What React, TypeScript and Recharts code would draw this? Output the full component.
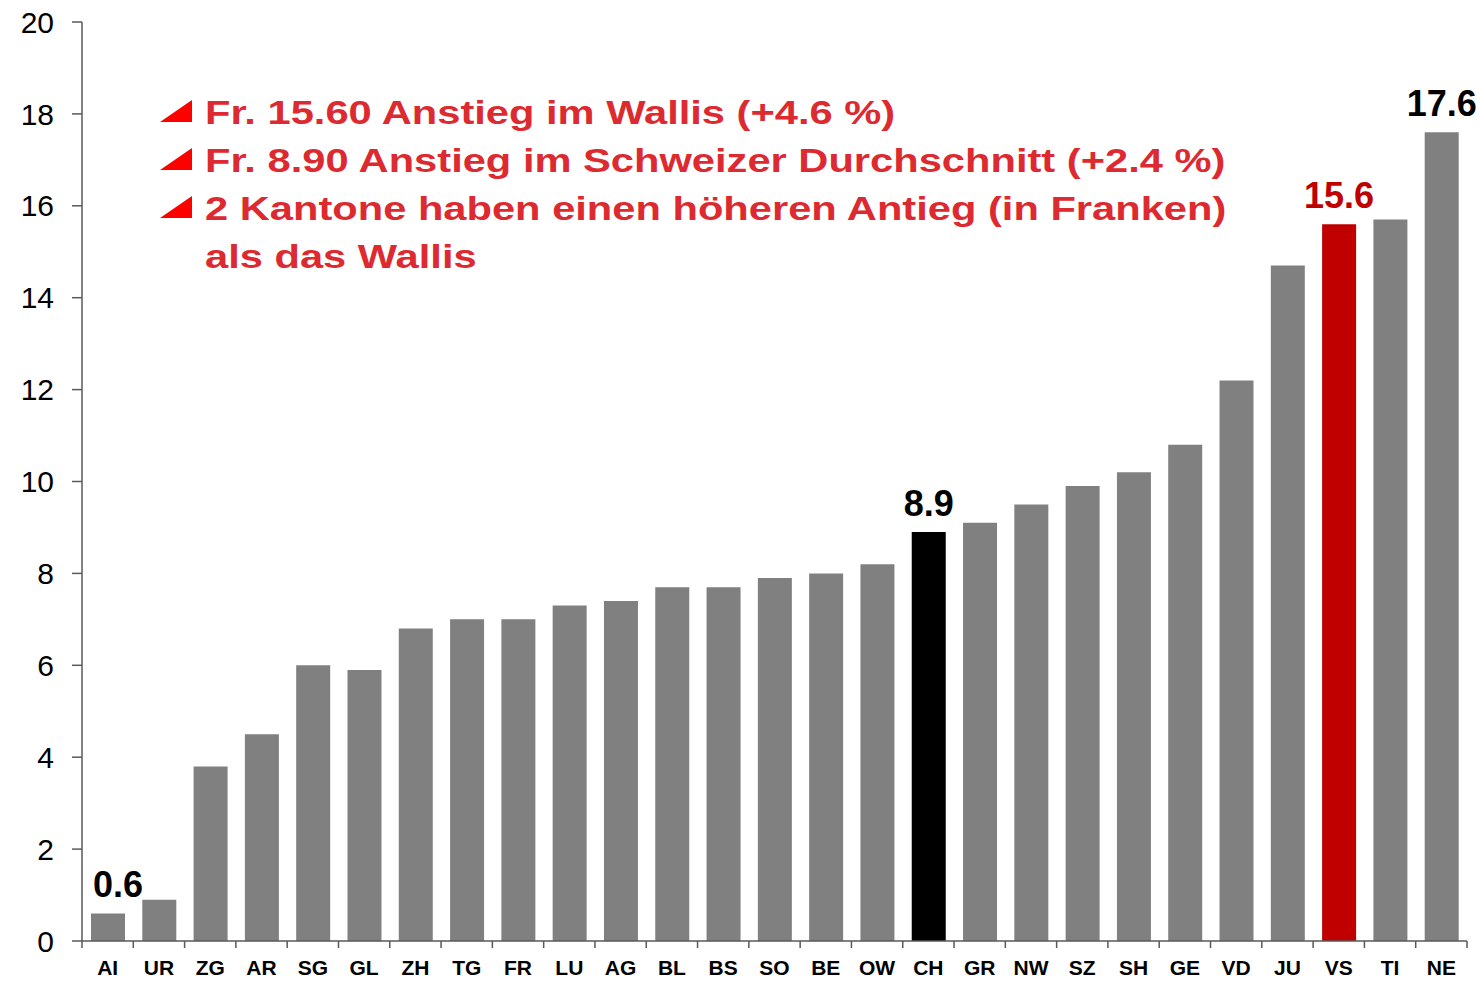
import { BarChart, Bar, XAxis, YAxis, Cell, LabelList } from 'recharts';

const cantons = [
  'AI', 'UR', 'ZG', 'AR', 'SG', 'GL', 'ZH', 'TG', 'FR', 'LU', 'AG', 'BL', 'BS', 'SO',
  'BE', 'OW', 'CH', 'GR', 'NW', 'SZ', 'SH', 'GE', 'VD', 'JU', 'VS', 'TI', 'NE',
];
const increase = [
  0.6, 0.9, 3.8, 4.5, 6.0, 5.9, 6.8, 7.0, 7.0, 7.3, 7.4, 7.7, 7.7, 7.9,
  8.0, 8.2, 8.9, 9.1, 9.5, 9.9, 10.2, 10.8, 12.2, 14.7, 15.6, 15.7, 17.6,
];
const yTicks = [0, 2, 4, 6, 8, 10, 12, 14, 16, 18, 20];
const labelled = ['AI', 'CH', 'VS', 'NE'];
const notes = [
  'Fr. 15.60 Anstieg im Wallis (+4.6 %)',
  'Fr. 8.90 Anstieg im Schweizer Durchschnitt (+2.4 %)',
  '2 Kantone haben einen höheren Antieg (in Franken)',
  'als das Wallis',
];

const W = 1480;
const H = 981;
const AXIS_X = 82;
const RIGHT = 13;
const FONT = '"Liberation Sans", Arial, sans-serif';
const AXIS_COLOR = '#595959';

const data = cantons.map((c, i) => ({ canton: c, value: increase[i] }));

function barColor(c: string) {
  if (c === 'CH') return '#000000';
  if (c === 'VS') return '#c00000';
  return '#808080';
}

function CantonTick(props: any) {
  const { x, y, payload, index } = props;
  const step = (W - AXIS_X - RIGHT) / cantons.length;
  return (
    <g>
      <line x1={x - step / 2} y1={y} x2={x - step / 2} y2={y + 7} stroke={AXIS_COLOR} strokeWidth={1.5} />
      {index === cantons.length - 1 && (
        <line x1={x + step / 2} y1={y} x2={x + step / 2} y2={y + 7} stroke={AXIS_COLOR} strokeWidth={1.5} />
      )}
      <text x={x} y={y + 34} textAnchor="middle" fontFamily={FONT} fontSize={21} fontWeight="bold" fill="#000">
        {payload.value}
      </text>
    </g>
  );
}

function ValueLabel(props: any) {
  const { x, y, width, value, index } = props;
  const c = cantons[index];
  if (!labelled.includes(c)) return null;
  // the AI label sits a little right of its bar in the original
  const shift = c === 'AI' ? 10 : 0;
  return (
    <text
      x={x + width / 2 + shift}
      y={y - 16}
      textAnchor="middle"
      fontFamily={FONT}
      fontSize={36}
      fontWeight="bold"
      fill={c === 'VS' ? '#c00000' : '#000'}
    >
      {Number(value).toFixed(1)}
    </text>
  );
}

export default function App() {
  return (
    <div style={{ position: 'absolute', left: 0, top: 0, width: W, height: H, background: '#fff' }}>
      <BarChart width={W} height={H} data={data} margin={{ top: 22, right: RIGHT, bottom: 10, left: 0 }}>
        <XAxis
          dataKey="canton"
          interval={0}
          tickSize={0}
          tickMargin={0}
          height={30}
          stroke={AXIS_COLOR}
          strokeWidth={1.5}
          tick={<CantonTick />}
        />
        <YAxis
          width={AXIS_X}
          domain={[0, 20]}
          ticks={yTicks}
          interval={0}
          tickSize={10}
          tickMargin={18}
          stroke={AXIS_COLOR}
          strokeWidth={1.5}
          tick={{ fill: '#000', fontSize: 30, fontFamily: FONT }}
        />
        <Bar dataKey="value" barSize={34} isAnimationActive={false}>
          {data.map((d) => (
            <Cell key={d.canton} fill={barColor(d.canton)} />
          ))}
          <LabelList dataKey="value" content={<ValueLabel />} />
        </Bar>
      </BarChart>
      <div style={{ position: 'absolute', left: 160, top: 88, fontFamily: FONT }}>
        {notes.map((n, i) => (
          <div
            key={i}
            style={{
              position: 'relative',
              paddingLeft: 45,
              height: 48,
              lineHeight: '48px',
              fontSize: 34,
              fontWeight: 'bold',
              color: '#dd2a30',
              whiteSpace: 'nowrap',
            }}
          >
            {i < 3 && (
              <svg width={34} height={24} style={{ position: 'absolute', left: 0, top: 12 }}>
                <polygon points="0,22 32,22 32,0" fill="#ff0000" />
              </svg>
            )}
            <span style={{ display: 'inline-block', transform: 'scaleX(1.225)', transformOrigin: 'left center' }}>
              {n}
            </span>
          </div>
        ))}
      </div>
    </div>
  );
}
